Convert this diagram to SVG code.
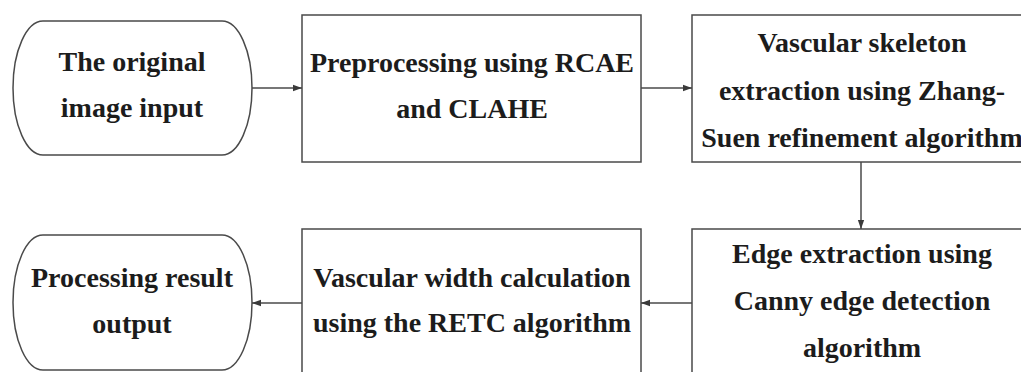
<svg xmlns="http://www.w3.org/2000/svg" width="1021" height="372" viewBox="0 0 1021 372">
<style>
.n{fill:#fff;stroke:#4a4a4a;stroke-width:1.5}
.t{font-family:"Liberation Serif","DejaVu Serif",serif;font-weight:bold;font-size:28px;fill:#1c1c1c;text-anchor:middle}
.c{stroke:#4a4a4a;stroke-width:1.5;fill:none;marker-end:url(#a)}
</style>
<defs>
<marker id="a" viewBox="0 0 10 10" refX="10" refY="5" markerWidth="9" markerHeight="9" markerUnits="userSpaceOnUse" orient="auto">
<path d="M0,1.5 L10,5 L0,8.5 Z" fill="#3a3a3a"/>
</marker>
</defs>
<rect width="1021" height="372" fill="#fff"/>
<g id="input">
<rect class="n" x="13" y="21" width="239" height="134" rx="30" ry="67"/>
<text class="t" x="132" y="71">The original</text>
<text class="t" x="132" y="117">image input</text>
</g>
<g id="preprocess">
<rect class="n" x="302" y="15" width="339" height="147"/>
<text class="t" x="472" y="72">Preprocessing using RCAE</text>
<text class="t" x="472" y="118">and CLAHE</text>
</g>
<g id="skeleton">
<rect class="n" x="692" y="15" width="340" height="147"/>
<text class="t" x="862" y="52">Vascular skeleton</text>
<text class="t" x="862" y="100">extraction using Zhang-</text>
<text class="t" x="862" y="147">Suen refinement algorithm</text>
</g>
<g id="edge">
<rect class="n" x="692" y="229" width="340" height="150"/>
<text class="t" x="862" y="263">Edge extraction using</text>
<text class="t" x="862" y="310">Canny edge detection</text>
<text class="t" x="862" y="357">algorithm</text>
</g>
<g id="width">
<rect class="n" x="302" y="229" width="339" height="150"/>
<text class="t" x="472" y="287">Vascular width calculation</text>
<text class="t" x="472" y="332">using the RETC algorithm</text>
</g>
<g id="output">
<rect class="n" x="13" y="235" width="239" height="135" rx="30" ry="67.5"/>
<text class="t" x="132" y="287">Processing result</text>
<text class="t" x="132" y="333">output</text>
</g>
<g id="connectors">
<path class="c" d="M252,88 H302"/>
<path class="c" d="M641,88 H692"/>
<path class="c" d="M861,162 V229"/>
<path class="c" d="M692,303 H641"/>
<path class="c" d="M302,303 H252"/>
</g>
</svg>
